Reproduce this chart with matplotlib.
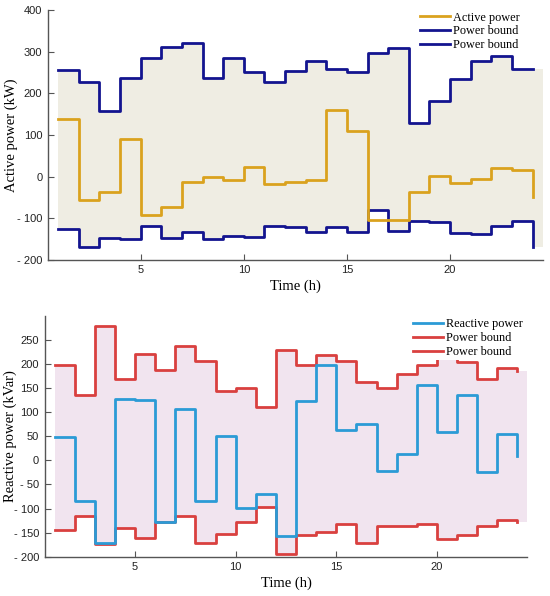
import numpy as np
import matplotlib
matplotlib.use("Agg")
import matplotlib.pyplot as plt

hours = list(range(1, 25))

active_power = [138, -56, -36, 90, -92, -74, -14, -2, -8, 22, -18, -12,
                -8, 160, 110, -105, -105, -38, 2, -16, -6, 20, 16, -48]
active_upper = [256, 227, 158, 236, 284, 312, 320, 238, 286, 251, 228, 254,
                278, 258, 251, 298, 308, 130, 182, 234, 278, 290, 258, 258]
active_lower = [-126, -168, -148, -150, -118, -147, -134, -150, -142, -144, -118, -122,
                -134, -120, -134, -80, -130, -107, -110, -136, -138, -118, -107, -170]

reactive_power = [48, -85, -172, 127, 126, -127, 106, -85, 50, -99, -70, -158,
                  124, 199, 62, 75, -23, 14, 156, 58, 136, -25, 54, 8]
reactive_upper = [199, 136, 279, 168, 221, 188, 237, 206, 145, 150, 111, 230,
                  197, 219, 206, 162, 150, 179, 197, 232, 204, 169, 191, 186]
reactive_lower = [-145, -115, -174, -140, -162, -129, -115, -171, -153, -129, -97, -195,
                  -154, -148, -133, -171, -136, -136, -133, -163, -154, -136, -124, -127]

x_ticks = [5, 10, 15, 20]
top_yticks = [-200, -100, 0, 100, 200, 300, 400]
bot_yticks = [-200, -150, -100, -50, 0, 50, 100, 150, 200, 250]

serif = "Liberation Serif"
sans = "Liberation Sans"


def fmt(v):
    return f"- {abs(v)}" if v < 0 else str(v)


def style(ax, yticks, ylabel, lab_x):
    for s in ["top", "right"]:
        ax.spines[s].set_visible(False)
    for s in ["left", "bottom"]:
        ax.spines[s].set_color("#555555")
        ax.spines[s].set_linewidth(1.0)
    ax.set_xlim(0.5, 24.5)
    ax.set_xticks(x_ticks)
    ax.set_xticklabels([str(t) for t in x_ticks], fontfamily=sans, fontsize=8)
    ax.set_yticks(yticks)
    ax.set_yticklabels([fmt(t) for t in yticks], fontfamily=sans, fontsize=8)
    ax.tick_params(direction="in", length=4, color="#555555", labelcolor="#222222", pad=4)
    ax.set_xlabel("Time (h)", fontfamily=serif, fontsize=10.5, labelpad=3)
    ax.set_ylabel(ylabel, fontfamily=serif, fontsize=10.5)
    ax.yaxis.set_label_coords(lab_x, 0.5)


fig = plt.figure(figsize=(5.5, 5.96), dpi=100)

# top: active power
ax1 = fig.add_axes([0.087, 0.564, 0.9, 0.419])
xe = hours + [24.5]
ax1.fill_between(xe, active_lower + [active_lower[-1]], active_upper + [active_upper[-1]],
                 step="post", color="#efede3", lw=0, zorder=1)
ax1.step(hours, active_power, where="post", color="#daa21e", lw=2.0, label="Active power", zorder=3)
ax1.step(hours, active_upper, where="post", color="#13148f", lw=2.0, label="Power bound", zorder=2)
ax1.step(hours, active_lower, where="post", color="#13148f", lw=2.0, label="Power bound", zorder=2)
ax1.set_ylim(-200, 400)
style(ax1, top_yticks, "Active power (kW)", -0.06)
leg1 = ax1.legend(loc="upper left", bbox_to_anchor=(0.751, 0.994), frameon=False,
                  prop={"family": serif, "size": 8.8}, handlelength=2.5,
                  handletextpad=0.2, labelspacing=0.15, borderpad=0, borderaxespad=0)

# bottom: reactive power
ax2 = fig.add_axes([0.081, 0.066, 0.878, 0.404])
ax2.fill_between(xe, reactive_lower + [reactive_lower[-1]], reactive_upper + [reactive_upper[-1]],
                 step="post", color="#f1e4ef", lw=0, zorder=1)
ax2.step(hours, reactive_power, where="post", color="#2b9bd6", lw=2.0, label="Reactive power", zorder=3)
ax2.step(hours, reactive_upper, where="post", color="#d9403f", lw=2.0, label="Power bound", zorder=2)
ax2.step(hours, reactive_lower, where="post", color="#d9403f", lw=2.0, label="Power bound", zorder=2)
ax2.set_ylim(-200, 300)
style(ax2, bot_yticks, "Reactive power (kVar)", -0.057)
leg2 = ax2.legend(loc="upper left", bbox_to_anchor=(0.757, 1.0), frameon=True,
                  prop={"family": serif, "size": 8.8}, handlelength=2.5,
                  handletextpad=0.2, labelspacing=0.15, borderpad=0.2, borderaxespad=0)
leg2.get_frame().set_edgecolor("none")
leg2.get_frame().set_facecolor("white")
leg2.get_frame().set_alpha(1.0)
leg2.get_frame().set_boxstyle("square", pad=0)
leg2.set_zorder(5)

fig.savefig("out.png", dpi=100)
